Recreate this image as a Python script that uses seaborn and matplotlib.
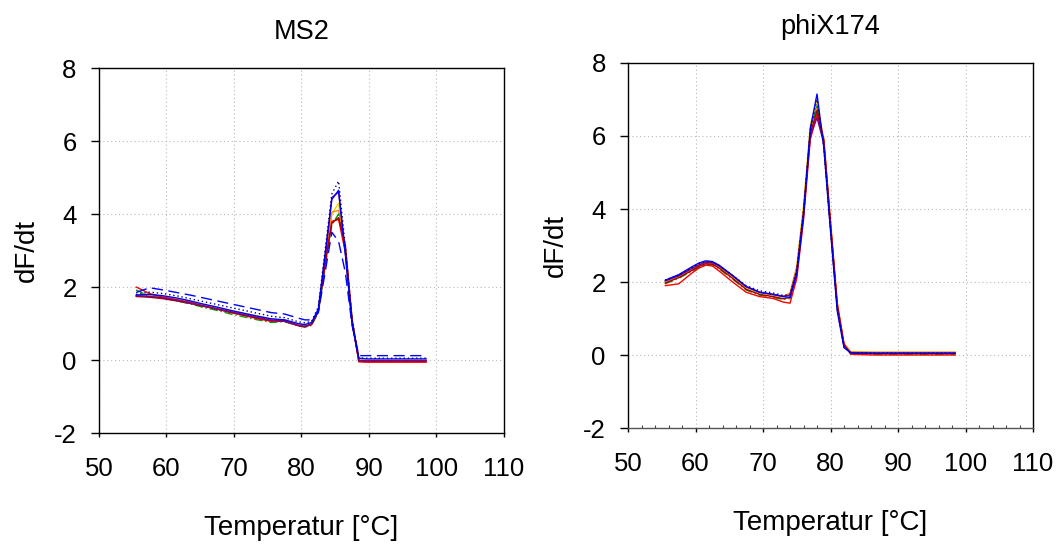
import numpy as np
import pandas as pd
import matplotlib
matplotlib.use("Agg")
import matplotlib.pyplot as plt
import seaborn as sns
from matplotlib.ticker import MultipleLocator

# ---------------------------------------------------------
# Daten (abgelesen aus der Schmelzkurve)
# ---------------------------------------------------------
temp_ms2 = [55.5, 57.5, 59.5, 61.5, 63.5, 65.5, 67.5, 69.5, 71.5, 73.5, 75.5, 77.5, 79.5,
            80.5, 81.5, 82.5, 83.5, 84.5, 85.5, 86.5, 87.5, 88.5, 89.5, 92.5, 95.5, 98.5]

ms2_blau = [1.78, 1.80, 1.76, 1.70, 1.62, 1.53, 1.45, 1.36, 1.28, 1.20, 1.13, 1.10, 1.00,
            0.97, 1.03, 1.40, 2.90, 4.40, 4.65, 2.90, 1.00, 0.05, 0.03, 0.03, 0.03, 0.03]
ms2_blau_gestr = [1.85, 1.98, 1.92, 1.85, 1.78, 1.70, 1.62, 1.54, 1.46, 1.38, 1.30, 1.26, 1.15,
                  1.10, 1.10, 1.30, 2.40, 3.50, 3.25, 2.40, 0.95, 0.12, 0.12, 0.12, 0.12, 0.12]
ms2_navy = [1.80, 1.86, 1.82, 1.76, 1.68, 1.60, 1.52, 1.44, 1.36, 1.28, 1.20, 1.16, 1.05,
            1.02, 1.06, 1.45, 3.00, 4.55, 4.90, 3.10, 1.10, 0.06, 0.05, 0.05, 0.05, 0.05]
ms2_rot = [2.00, 1.82, 1.72, 1.65, 1.58, 1.48, 1.40, 1.30, 1.22, 1.13, 1.06, 1.08, 0.95,
           0.92, 0.98, 1.35, 2.60, 3.80, 3.85, 2.95, 1.05, -0.05, -0.06, -0.06, -0.06, -0.06]
ms2_gruen = [1.92, 1.74, 1.70, 1.62, 1.54, 1.44, 1.36, 1.26, 1.18, 1.10, 1.03, 1.05, 0.94,
             0.90, 0.95, 1.30, 2.55, 3.70, 4.00, 3.05, 1.10, -0.03, -0.04, -0.04, -0.04, -0.04]
ms2_gelb = [1.78, 1.78, 1.74, 1.68, 1.60, 1.52, 1.44, 1.36, 1.28, 1.21, 1.12, 1.10, 0.98,
            0.95, 1.00, 1.35, 2.70, 4.00, 4.30, 3.00, 1.05, 0.00, -0.01, -0.01, -0.01, -0.01]
ms2_orange = [1.76, 1.76, 1.72, 1.66, 1.58, 1.50, 1.42, 1.34, 1.26, 1.18, 1.10, 1.08, 0.96,
              0.93, 0.99, 1.38, 2.75, 4.05, 4.10, 3.10, 1.15, -0.02, -0.03, -0.03, -0.03, -0.03]
ms2_lila = [1.76, 1.74, 1.70, 1.64, 1.56, 1.48, 1.40, 1.32, 1.24, 1.16, 1.09, 1.06, 0.95,
            0.92, 0.98, 1.36, 2.80, 4.45, 4.60, 2.95, 1.00, -0.01, -0.02, -0.02, -0.02, -0.02]
ms2_dunkelrot = [1.74, 1.72, 1.68, 1.62, 1.55, 1.47, 1.39, 1.31, 1.23, 1.15, 1.08, 1.06, 0.94,
                 0.91, 0.97, 1.33, 2.65, 3.75, 3.90, 3.15, 1.10, -0.02, -0.03, -0.03, -0.03, -0.03]

temp_phix = [55.5, 57.5, 59.5, 60.5, 61.5, 62.5, 63.5, 65.5, 67.5, 69.5, 71.5, 73.0, 74.0,
             75.0, 76.0, 77.0, 78.0, 79.0, 80.0, 81.0, 82.0, 83.0, 86.5, 90.5, 94.5, 98.5]

phix_blau = [2.05, 2.20, 2.42, 2.52, 2.58, 2.56, 2.46, 2.18, 1.88, 1.72, 1.66, 1.60, 1.58,
             2.20, 3.80, 6.20, 7.15, 5.70, 3.40, 1.20, 0.20, 0.06, 0.05, 0.05, 0.05, 0.05]
phix_rot = [1.90, 1.95, 2.25, 2.38, 2.46, 2.44, 2.30, 2.00, 1.72, 1.60, 1.55, 1.45, 1.42,
            2.10, 3.70, 5.90, 6.60, 5.90, 3.60, 1.40, 0.30, 0.02, 0.00, 0.00, 0.00, 0.00]
phix_gruen = [1.95, 2.10, 2.30, 2.40, 2.48, 2.47, 2.36, 2.08, 1.78, 1.64, 1.58, 1.52, 1.55,
              2.25, 3.85, 6.05, 6.85, 5.85, 3.55, 1.35, 0.27, 0.03, 0.02, 0.02, 0.02, 0.02]
phix_gelb = [2.02, 2.18, 2.38, 2.48, 2.54, 2.52, 2.42, 2.14, 1.84, 1.70, 1.64, 1.59, 1.68,
             2.45, 4.10, 6.30, 6.95, 5.75, 3.45, 1.28, 0.24, 0.07, 0.06, 0.06, 0.06, 0.06]
phix_orange = [2.00, 2.16, 2.36, 2.46, 2.53, 2.52, 2.43, 2.16, 1.86, 1.71, 1.65, 1.60, 1.70,
               2.40, 4.00, 6.15, 6.80, 5.95, 3.70, 1.45, 0.32, 0.09, 0.08, 0.08, 0.08, 0.08]
phix_lila = [2.03, 2.17, 2.37, 2.47, 2.54, 2.53, 2.44, 2.17, 1.87, 1.72, 1.66, 1.61, 1.64,
             2.30, 3.90, 6.00, 6.50, 5.80, 3.50, 1.30, 0.25, 0.06, 0.05, 0.05, 0.05, 0.05]
phix_navy = [2.05, 2.19, 2.40, 2.50, 2.56, 2.55, 2.45, 2.18, 1.90, 1.76, 1.70, 1.63, 1.66,
             2.35, 3.95, 6.15, 7.00, 5.70, 3.45, 1.25, 0.22, 0.06, 0.05, 0.05, 0.05, 0.05]
phix_dunkelrot = [1.97, 2.12, 2.32, 2.43, 2.50, 2.49, 2.38, 2.10, 1.80, 1.66, 1.60, 1.54, 1.58,
                  2.28, 3.88, 6.05, 6.70, 5.85, 3.55, 1.33, 0.26, 0.05, 0.04, 0.04, 0.04, 0.04]

# Farben und Linienstile je Probe
farben = {'blau': '#0000ff', 'blau_gestr': '#0000ff', 'navy': '#000080', 'rot': '#ff0000',
          'gruen': '#00a000', 'gelb': '#f0d800', 'orange': '#ff8c00', 'lila': '#800080',
          'dunkelrot': '#a00000'}
stile = {'blau': '', 'blau_gestr': (8, 4), 'navy': (1, 2), 'rot': '', 'gruen': (6, 2, 1, 2),
         'gelb': '', 'orange': '', 'lila': '', 'dunkelrot': ''}

ms2_serien = {'gelb': ms2_gelb, 'orange': ms2_orange, 'gruen': ms2_gruen, 'rot': ms2_rot,
              'dunkelrot': ms2_dunkelrot, 'lila': ms2_lila, 'blau_gestr': ms2_blau_gestr,
              'blau': ms2_blau, 'navy': ms2_navy}
phix_serien = {'gelb': phix_gelb, 'orange': phix_orange, 'gruen': phix_gruen, 'rot': phix_rot,
               'dunkelrot': phix_dunkelrot, 'lila': phix_lila, 'blau': phix_blau,
               'navy': phix_navy}


def lang_format(temp, serien):
    teile = []
    for name, werte in serien.items():
        teile.append(pd.DataFrame({'Temperatur': temp, 'dFdt': werte, 'Probe': name}))
    return pd.concat(teile, ignore_index=True)


df_ms2 = lang_format(temp_ms2, ms2_serien)
df_phix = lang_format(temp_phix, phix_serien)

# ---------------------------------------------------------
# Grafik
# ---------------------------------------------------------
sns.set_theme(style="white")
plt.rcParams['font.family'] = ['Liberation Sans', 'DejaVu Sans']
plt.rcParams['axes.unicode_minus'] = False
for k in ['text.color', 'axes.labelcolor', 'xtick.color', 'ytick.color']:
    plt.rcParams[k] = 'black'

fig = plt.figure(figsize=(10.63, 5.44), dpi=100)
ax1 = fig.add_axes([0.0931, 0.204, 0.381, 0.671])
ax2 = fig.add_axes([0.5908, 0.2132, 0.381, 0.671])

for ax, df, titel in [(ax1, df_ms2, 'MS2'), (ax2, df_phix, 'phiX174')]:
    namen = df['Probe'].unique()
    sns.lineplot(data=df, x='Temperatur', y='dFdt', hue='Probe', style='Probe',
                 palette={n: farben[n] for n in namen}, dashes={n: stile[n] for n in namen},
                 estimator=None, sort=False, linewidth=1.0, legend=False, ax=ax)
    ax.set_xlim(50, 110)
    ax.set_ylim(-2, 8)
    ax.xaxis.set_major_locator(MultipleLocator(10))
    ax.yaxis.set_major_locator(MultipleLocator(2))
    ax.grid(True, linestyle=(0, (1, 2.5)), color='#b8b8b8', linewidth=0.8)
    ax.tick_params(axis='x', which='major', direction='out', length=3, width=1,
                   labelsize=18.5, pad=14, bottom=True)
    ax.tick_params(axis='y', which='major', direction='out', length=6, width=1,
                   labelsize=18.5, pad=10, left=True)
    for s in ax.spines.values():
        s.set_color('black')
        s.set_linewidth(1)
    ax.set_title(titel, fontsize=19.5, pad=21)
    ax.set_xlabel('Temperatur [°C]', fontsize=20, labelpad=25)
    ax.set_ylabel('dF/dt', fontsize=20, labelpad=10)

ax2.xaxis.set_minor_locator(MultipleLocator(2))
ax2.tick_params(axis='x', which='minor', direction='in', length=2.5, width=0.8,
                color='#444444', bottom=True)
ax2.spines['bottom'].set_color('#555555')
ax2.title.set_y(1.01)

fig.savefig('out.png', dpi=100)
